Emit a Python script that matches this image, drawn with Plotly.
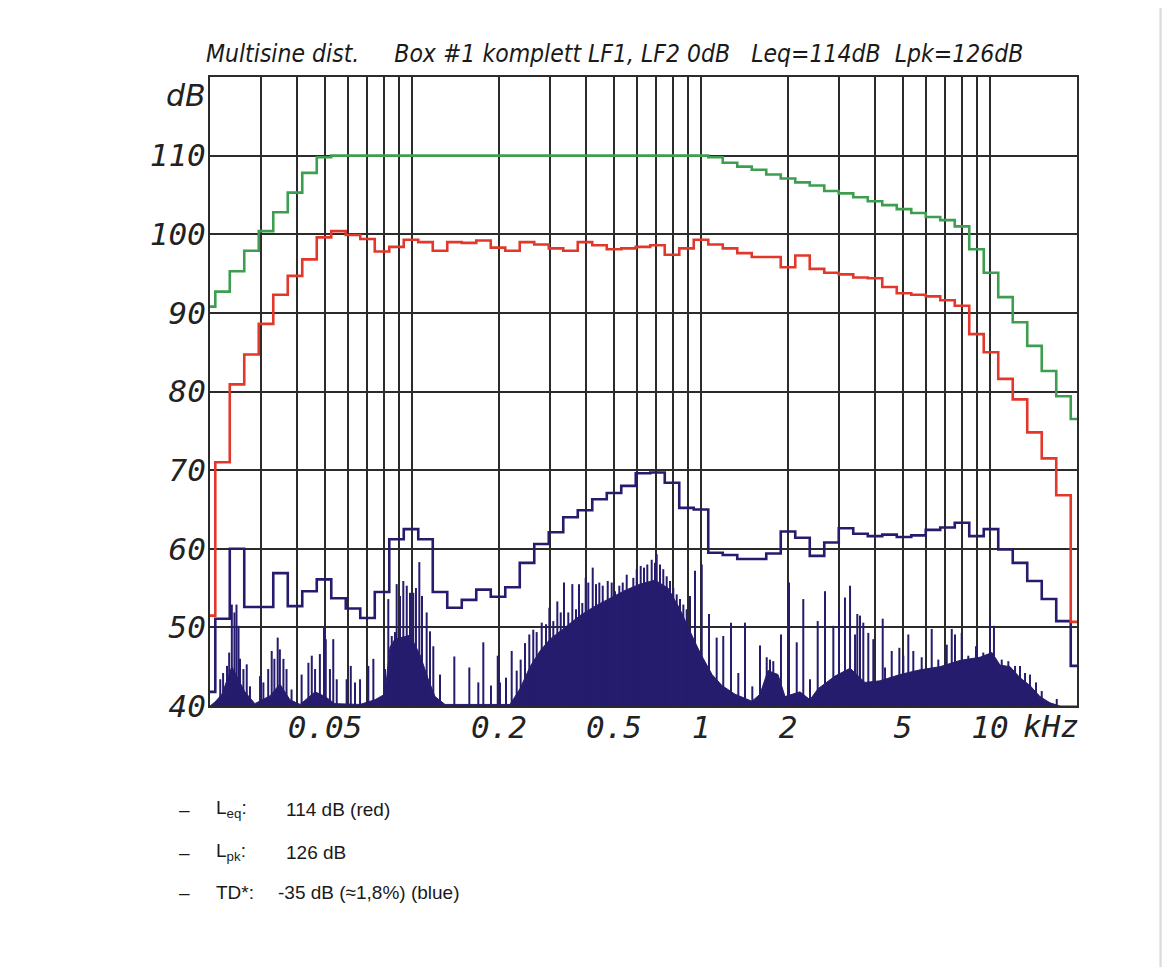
import plotly.graph_objects as go

# 1/6-octave band centres (kHz) used by the analyser
band_khz = [0.01969, 0.02210, 0.02480, 0.02784, 0.03125, 0.03508, 0.03937, 0.04419,
            0.04961, 0.05568, 0.0625, 0.07015, 0.07875, 0.08839, 0.09921, 0.11136,
            0.125, 0.14031, 0.15749, 0.17678, 0.19843, 0.22272, 0.25, 0.28062,
            0.31498, 0.35355, 0.39685, 0.44545, 0.5, 0.56123, 0.62996, 0.70711,
            0.7937, 0.8909, 1.0, 1.1225, 1.2599, 1.4142, 1.5874, 1.7818,
            2.0, 2.2449, 2.5198, 2.8284, 3.1748, 3.5636, 4.0, 4.4898,
            5.0397, 5.6569, 6.3496, 7.1272, 8.0, 8.9797, 10.079, 11.314,
            12.699, 14.254, 16.0, 17.959, 20.159]

# limit curve (green)
green_db = [90.8, 92.7, 95.3, 97.9, 100.4, 102.8, 105.3, 107.8, 109.8,
            110, 110, 110, 110, 110, 110, 110, 110, 110, 110, 110, 110, 110,
            110, 110, 110, 110, 110, 110, 110, 110, 110, 110, 110, 110, 110,
            109.8, 109.1, 108.6, 108.2, 107.6, 107.1, 106.6, 106.2, 105.5, 105.2,
            104.7, 104.2, 103.7, 103.2, 102.7, 102.2, 101.8, 101.0, 98.1, 95.1,
            92.0, 88.8, 85.8, 82.6, 79.4, 76.5]

# Leq per band (red)
red_db = [51.5, 71.0, 80.9, 84.7, 88.6, 92.3, 94.7, 96.8, 99.6, 100.4,
          99.9, 99.4, 97.8, 98.4, 99.3, 99.0, 97.9, 99.0, 98.9, 99.2,
          98.3, 97.9, 99.0, 98.7, 98.2, 97.9, 99.0, 98.6, 98.1, 98.2,
          98.4, 98.6, 97.4, 98.2, 99.3, 98.7, 98.2, 97.6, 97.1, 97.1,
          95.8, 97.3, 95.6, 95.1, 94.9, 94.5, 94.4, 93.3, 92.5, 92.3,
          92.1, 91.6, 90.9, 87.3, 85.0, 81.6, 79.0, 74.8, 71.5, 66.8, 50.7]

# distortion per band (blue)
blue_db = [41.8, 51.1, 60.0, 52.6, 52.6, 56.9, 52.7, 54.6, 56.1, 53.7,
           52.4, 51.2, 54.5, 61.2, 62.5, 61.2, 54.5, 52.5, 53.5, 54.8,
           53.9, 55.1, 58.2, 60.6, 62.1, 64.0, 64.9, 66.3, 67.1, 68.0,
           69.6, 69.7, 68.4, 65.2, 65.0, 59.5, 59.2, 58.7, 58.7, 59.4,
           62.2, 61.4, 59.1, 60.8, 62.6, 61.9, 61.6, 61.8, 61.5, 61.7,
           62.4, 62.7, 63.3, 61.6, 62.5, 59.9, 58.2, 55.9, 53.6, 50.8, 45.1]

# distortion spectrum: solid floor
floor_khz = [0.0200, 0.0208, 0.0220, 0.0238, 0.0264, 0.0286, 0.0323, 0.0349, 0.0378,
             0.0410, 0.0462, 0.0500, 0.0541, 0.0661, 0.0745, 0.0806, 0.0839, 0.0873,
             0.0984, 0.1066, 0.1136, 0.1201, 0.1301, 0.2184, 0.2364, 0.2561, 0.2773,
             0.3003, 0.3384, 0.3814, 0.4297, 0.4843, 0.5458, 0.6151, 0.6932, 0.7689,
             0.8459, 0.9161, 0.992, 1.092, 1.182, 1.311, 1.501, 1.600, 1.705, 1.847,
             1.953, 2.200, 2.383, 2.541, 2.909, 3.279, 3.694, 4.163, 4.883, 5.726,
             6.714, 7.874, 9.235, 10.16, 10.83, 11.73, 12.70, 13.75, 14.89, 16.13,
             17.47, 20.0]
floor_db = [40.0, 40.5, 41.5, 45.0, 41.8, 40.3, 41.3, 42.8, 40.8,
            40.2, 41.8, 41.2, 40.3, 40.2, 40.8, 41.5, 47.5, 48.5,
            49.0, 46.5, 43.5, 41.2, 40.2, 40.2, 42.2, 45.0, 47.0,
            48.5, 50.0, 51.5, 52.7, 53.7, 54.7, 55.5, 56.0, 55.0,
            52.3, 49.5, 46.8, 44.0, 42.6, 41.5, 40.6, 41.5, 44.5, 44.0,
            41.2, 41.8, 40.8, 42.2, 43.8, 44.8, 43.0, 43.2, 44.0, 44.6,
            45.0, 45.8, 46.2, 46.8, 45.2, 45.0, 43.6, 42.6, 41.2, 40.4,
            40.0, 40.0]

# distortion spectrum: single lines
spike_khz = [0.0217, 0.0222, 0.0229, 0.0233, 0.0238, 0.0243, 0.0247, 0.0251, 0.0254,
             0.0261, 0.0268, 0.0275, 0.0298, 0.0306, 0.0318, 0.0327, 0.0334, 0.0343,
             0.0349, 0.0359, 0.0368, 0.0383, 0.0415, 0.0438, 0.0450, 0.0462, 0.0480,
             0.0496, 0.0503, 0.0520, 0.0534, 0.0549, 0.0594, 0.0614, 0.0635, 0.0661,
             0.0706, 0.0735, 0.0807, 0.0828, 0.0851, 0.0873, 0.0885, 0.0909, 0.0933,
             0.0959, 0.0984, 0.1010, 0.1032, 0.1060, 0.1083, 0.1124, 0.1154, 0.1185,
             0.1250, 0.1401, 0.1579, 0.1696, 0.1765, 0.1876, 0.1980, 0.2016, 0.2115,
             0.2213, 0.2303, 0.2377,
             0.2460, 0.2546, 0.2628, 0.2700, 0.2811, 0.2909, 0.2987, 0.3083, 0.3183,
             0.3270, 0.3357, 0.3474, 0.3587, 0.3694, 0.3783, 0.3884, 0.3990, 0.4074,
             0.4220, 0.4332, 0.4448, 0.4570, 0.4756, 0.4909, 0.5040, 0.5216, 0.5360,
             0.5533, 0.5680, 0.5832, 0.5992, 0.6185, 0.6351, 0.6519, 0.6751, 0.6932,
             0.7026, 0.7214, 0.7404, 0.7608, 0.7811, 0.8020, 0.8240, 0.8459, 0.8687,
             0.8923, 0.9161, 0.9533, 1.006,
             1.066, 1.133, 1.194, 1.270, 1.346, 1.420, 1.505, 1.600, 1.688, 1.733,
             1.779, 1.891, 2.016, 2.144, 2.259, 2.383, 2.534, 2.686, 2.870, 3.003,
             3.149, 3.279, 3.412, 3.474, 3.550, 3.644, 3.792, 3.947, 4.254, 4.333,
             4.570, 4.856, 5.012, 5.216, 5.428, 5.803, 6.285, 6.624, 7.085, 7.373,
             7.566, 7.981, 8.412, 8.945, 9.480, 10.0, 10.32, 10.98, 11.57, 12.21,
             12.70, 13.22, 13.75, 14.43, 15.10, 17.02]
spike_db = [43.4, 44.2, 45.1, 46.8, 52.9, 51.9, 52.9, 50.2, 46.0,
            44.7, 45.3, 42.5, 43.8, 43.0, 44.7, 47.0, 46.0, 48.7,
            47.2, 46.0, 44.7, 42.1, 44.0, 45.5, 46.4, 44.7, 46.6,
            50.0, 48.5, 44.7, 48.5, 43.4, 43.4, 45.1, 43.0, 43.4,
            45.1, 46.0, 44.7, 53.6, 48.9, 49.4, 55.5, 54.0, 55.9,
            55.3, 54.4, 54.4, 55.0, 58.3, 54.0, 51.9, 49.5, 47.6,
            44.0, 46.3, 44.9, 43.0, 48.1, 42.6, 46.4, 43.0, 43.6,
            47.0, 44.5, 45.9,
            48.0, 49.1, 49.7, 49.4, 50.6, 50.4, 52.5, 50.8, 53.3,
            51.9, 55.7, 51.9, 55.5, 52.3, 55.5, 53.1, 56.3, 55.7,
            57.6, 55.5, 55.7, 55.3, 55.9, 55.7, 54.6, 55.3, 55.7,
            56.7, 55.0, 56.3, 57.4, 57.8, 57.6, 58.0, 58.6, 58.2,
            59.3, 58.0, 57.4, 56.5, 55.9, 55.0, 54.2, 53.6, 52.9,
            52.3, 54.0, 57.2, 58.0,
            51.7, 48.7, 48.9, 50.6, 44.2, 50.6, 42.5, 47.7, 46.2, 45.9,
            45.7, 49.1, 55.7, 48.1, 53.6, 43.4, 50.8, 54.6, 50.2, 52.1,
            53.8, 55.3, 49.1, 51.7, 51.5, 50.6, 49.3, 48.5, 51.1, 44.9,
            47.0, 47.4, 46.4, 49.1, 47.0, 46.2, 49.8, 45.9, 47.8, 49.8,
            49.1, 49.3, 46.4, 47.6, 46.8, 51.0, 50.2, 45.9, 45.7, 45.1,
            45.1, 44.2, 44.0, 43.0, 41.9, 40.9]

label_khz = [0.05, 0.2, 0.5, 1, 2, 5, 10]
label_text = ["0.05", "0.2", "0.5", "1", "2", "5", "10"]
grid_khz = [0.02, 0.03, 0.04, 0.06, 0.07, 0.08, 0.09, 0.1, 0.3, 0.4,
            0.6, 0.7, 0.8, 0.9, 3, 4, 6, 7, 8, 9, 20]
db_ticks = [40, 50, 60, 70, 80, 90, 100, 110]

navy = "#261c6e"
grid_col = "#2b2b2b"
tick_font = dict(family="DejaVu Sans Mono", size=31, color="#222", style="italic")

spike_x, spike_y = [], []
for f, v in zip(spike_khz, spike_db):
    spike_x += [f, f, None]
    spike_y += [40, v, None]

fig = go.Figure()
fig.add_trace(go.Scatter(x=floor_khz, y=floor_db, mode="lines", fill="tozeroy",
                         fillcolor=navy, line=dict(color=navy, width=1)))
fig.add_trace(go.Scatter(x=spike_x, y=spike_y, mode="lines",
                         line=dict(color=navy, width=2)))
fig.add_trace(go.Scatter(x=band_khz, y=blue_db, mode="lines",
                         line=dict(color=navy, width=2.6, shape="hvh")))
fig.add_trace(go.Scatter(x=band_khz, y=red_db, mode="lines",
                         line=dict(color="#e2382b", width=2.6, shape="hvh")))
fig.add_trace(go.Scatter(x=band_khz, y=green_db, mode="lines",
                         line=dict(color="#3c9e4e", width=2.6, shape="hvh")))

fig.update_xaxes(type="log", range=[-1.69897, 1.30103],
                 tickmode="array", tickvals=label_khz, ticktext=label_text,
                 showgrid=True, gridcolor=grid_col, gridwidth=1.6,
                 minor=dict(tickmode="array", tickvals=grid_khz, showgrid=True,
                            gridcolor=grid_col, gridwidth=1.6, ticks=""),
                 showline=True, mirror=True, linecolor=grid_col, linewidth=2,
                 ticks="", tickfont=tick_font, zeroline=False, ticklabelstandoff=-7)
fig.update_yaxes(range=[40, 120], tickvals=db_ticks, ticktext=[str(v) for v in db_ticks],
                 showgrid=True, gridcolor=grid_col, gridwidth=1.6,
                 showline=True, mirror=True, linecolor=grid_col, linewidth=2,
                 ticks="", tickfont=tick_font, zeroline=False, ticklabelstandoff=-4)

# page-pixel helpers (plot area spans x 210..1077, y 76.5..706.7 on the page)
H = 630.0
W = 867.0


def px(x):
    return (x - 210) / W


def py(y):
    return (706.7 - y) / H


nb = "\u00a0"
title_font = dict(family="Liberation Sans Narrow, DejaVu Sans Condensed, Arial Narrow, sans-serif",
                  size=24.5, color="#1a1a1a", style="italic")
body_font = dict(family="Liberation Sans, Arial, sans-serif", size=19, color="#1a1a1a")

annotations = [
    dict(text="Multisine dist." + nb * 5 + "Box #1 komplett LF1, LF2 0dB" + nb * 3
         + "Leq=114dB" + nb * 2 + "Lpk=126dB",
         x=px(204), y=py(53), xanchor="left", yanchor="middle", font=title_font),
    dict(text="dB", x=px(208), y=py(95), xanchor="right", yanchor="middle",
         font=dict(family="DejaVu Sans", size=30, color="#222", style="italic")),
    dict(text="kHz", x=px(1021), y=py(727), xanchor="left", yanchor="middle", font=tick_font),
]
rows = [("L<sub>eq</sub>:", "114 dB (red)", 810, 284),
        ("L<sub>pk</sub>:", "126 dB", 853, 284),
        ("TD*:", "-35 dB (\u22481,8%) (blue)", 893, 276)]
for lab, val, yy, xv in rows:
    annotations.append(dict(text="\u2013", x=px(184), y=py(yy), xanchor="center",
                            yanchor="middle", font=body_font))
    annotations.append(dict(text=lab, x=px(214), y=py(yy), xanchor="left",
                            yanchor="middle", font=body_font))
    annotations.append(dict(text=val, x=px(xv), y=py(yy), xanchor="left",
                            yanchor="middle", font=body_font))
for a in annotations:
    a.update(xref="paper", yref="paper", showarrow=False)

# the page sits 8 px inside the browser window
fig.update_layout(
    width=1162, height=959,
    margin=dict(l=202, r=93, t=68.5, b=260.5),
    paper_bgcolor="white", plot_bgcolor="white",
    showlegend=False, hovermode=False,
    annotations=annotations,
    shapes=[dict(type="rect", xref="paper", yref="paper",
                 x0=px(1160), x1=px(1175), y0=py(975), y1=py(-10),
                 fillcolor="#e5e5e9", line=dict(color="#d4d4d8", width=1), layer="above")],
)

fig.write_html("out.html")
